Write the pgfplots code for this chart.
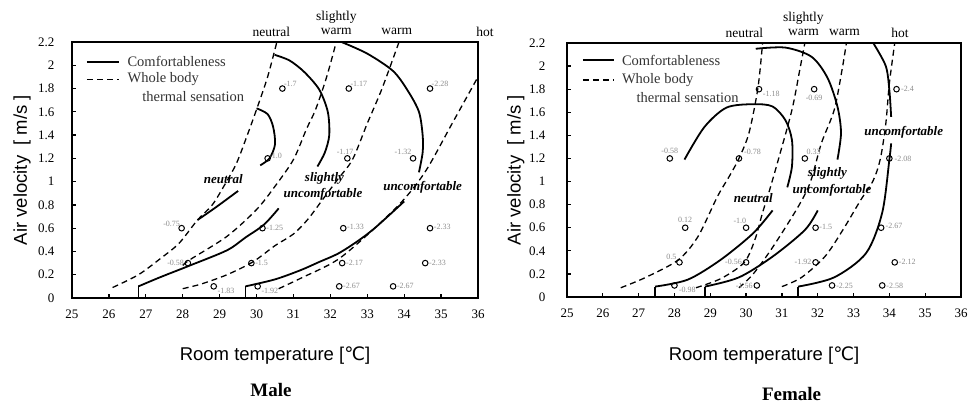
\documentclass[border=0pt]{standalone}
\usepackage{fontspec}
\setmainfont{Liberation Serif}
\newfontfamily\sansf{Liberation Sans}
\newfontfamily\dejavu{DejaVu Sans}
\usepackage{pgfplots}
\pgfplotsset{compat=1.18}
\tikzset{
  lab/.style={font=\fontsize{8}{8}\selectfont, text=black!45, inner sep=1.5pt},
  reg/.style={font=\bfseries\itshape\fontsize{13}{13}\selectfont},
  top/.style={font=\fontsize{13.5}{13.5}\selectfont, inner sep=0pt},
  leg/.style={font=\fontsize{14.5}{14.5}\selectfont, text=black!80, anchor=west, inner sep=0pt},
  alab/.style={font=\sansf\fontsize{18.5}{18.5}\selectfont},
  ttl/.style={font=\bfseries\fontsize{19}{19}\selectfont},
}
\begin{document}
\begin{tikzpicture}
\path[use as bounding box] (0pt,0pt) rectangle (969pt,403pt);
\pgfplotsset{
  panel/.style={
    scale only axis,
    xmin=25, xmax=36, ymin=0, ymax=2.2,
    xtick={25,26,27,28,29,30,31,32,33,34,35,36},
    ytick={0,0.2,0.4,0.6,0.8,1,1.2,1.4,1.6,1.8,2,2.2},
    xtick pos=bottom, ytick pos=left, tick align=inside,
    major tick length=4pt,
    tick style={line width=1.2pt, black},
    axis line style={line width=1.6pt},
    /pgf/number format/assume math mode=true,
    ticklabel style={font=\fontsize{13}{13}\selectfont},
    xticklabel style={yshift=-8pt},
    clip=false,
  },
  sol/.style={line width=1.8pt, black, smooth, tension=0.5, mark=none},
  stp/.style={line width=1.8pt, black, mark=none},
  das/.style={line width=1.3pt, black, dash pattern=on 6pt off 4pt, smooth, tension=0.5, mark=none},
  pts/.style={only marks, mark=o, mark size=2.8pt, mark options={line width=1pt, black}},
}
% ================= MALE =================
\begin{axis}[panel, at={(72pt,105pt)}, anchor=south west, width=406pt, height=256pt,
  yticklabel style={xshift=-14pt}]
% thermal sensation (dashed)
\addplot[das] coordinates {(26.1,0.09) (26.8,0.2) (27.4,0.34) (27.9,0.47) (28.4,0.67) (28.8,0.8) (29.15,0.98) (29.46,1.16) (29.75,1.4) (30.0,1.62) (30.3,1.9) (30.55,2.2)};
\addplot[das] coordinates {(28.0,0.28) (28.2,0.33) (29.2,0.53) (30.0,0.76) (30.5,0.96) (31.0,1.19) (31.35,1.45) (31.6,1.62) (31.9,1.9) (32.16,2.2)};
\addplot[das] coordinates {(28.0,0.08) (28.5,0.12) (29.2,0.2) (29.9,0.31) (30.5,0.45) (31.0,0.55) (31.4,0.68) (31.8,0.85) (32.2,1.02) (32.6,1.19) (33.0,1.5) (33.4,1.8) (33.86,2.2)};
\addplot[das] coordinates {(30.6,0.08) (31.2,0.17) (32.2,0.33) (33.2,0.6) (34.0,0.85) (34.6,1.1) (35.3,1.5) (36,1.9)};
% comfortableness (solid)
\addplot[sol] coordinates {(30.0,1.63) (30.3,1.58) (30.45,1.47) (30.5,1.32) (30.35,1.2) (30.1,1.14)};
\addplot[sol] coordinates {(28.4,0.67) (28.9,0.78) (29.5,0.92)};
\addplot[sol] coordinates {(30.49,2.09) (30.9,2.04) (31.3,1.94) (31.7,1.79) (31.93,1.6) (31.97,1.4) (31.85,1.25) (31.65,1.13)};
\addplot[stp] coordinates {(26.8,0) (26.8,0.1)};
\addplot[sol] coordinates {(26.8,0.1) (27.4,0.18) (28.2,0.28) (29.2,0.41) (29.7,0.52) (30.2,0.63) (30.6,0.77)};
\addplot[sol] coordinates {(32.3,2.2) (33.0,2.1) (33.7,1.95) (34.1,1.78) (34.4,1.6) (34.5,1.4) (34.5,1.25) (34.4,1.08)};
\addplot[stp] coordinates {(29.7,0) (29.7,0.1)};
\addplot[sol] coordinates {(29.7,0.1) (30.5,0.16) (31.2,0.24) (31.7,0.31) (32.2,0.38) (32.7,0.48) (33.2,0.6) (34.0,0.83)};
% measured points
\addplot[pts] coordinates {(30.7,1.8) (32.5,1.8) (34.7,1.8) (30.3,1.2) (32.46,1.2) (34.24,1.2)
 (27.97,0.6) (30.16,0.6) (32.35,0.6) (34.7,0.6) (28.14,0.3) (29.86,0.3) (32.32,0.3) (34.57,0.3)
 (28.84,0.1) (30.03,0.1) (32.24,0.1) (33.7,0.1)};
\node[lab, above right] at (axis cs:30.7,1.8) {-1.7};
\node[lab, above right] at (axis cs:32.5,1.8) {-1.17};
\node[lab, above right] at (axis cs:34.7,1.8) {-2.28};
\node[lab, right] at (axis cs:30.3,1.22) {-1.0};
\node[lab, above] at (axis cs:32.4,1.22) {-1.17};
\node[lab, above left] at (axis cs:34.24,1.22) {-1.32};
\node[lab, above left] at (axis cs:27.97,0.6) {-0.75};
\node[lab, right] at (axis cs:30.22,0.6) {-1.25};
\node[lab, right] at (axis cs:32.41,0.61) {-1.33};
\node[lab, right] at (axis cs:34.76,0.61) {-2.33};
\node[lab, left] at (axis cs:28.08,0.3) {-0.58};
\node[lab, right] at (axis cs:29.92,0.3) {-1.5};
\node[lab, right] at (axis cs:32.38,0.3) {-2.17};
\node[lab, right] at (axis cs:34.63,0.3) {-2.33};
\node[lab, below right] at (axis cs:28.9,0.1) {-1.83};
\node[lab, below right] at (axis cs:30.09,0.1) {-1.92};
\node[lab, right] at (axis cs:32.3,0.1) {-2.67};
\node[lab, right] at (axis cs:33.76,0.1) {-2.67};
% region labels
\node[reg] at (axis cs:29.1,1.02) {neutral};
\node[reg] at (axis cs:31.84,1.03) {slightly};
\node[reg] at (axis cs:31.8,0.89) {uncomfortable};
\node[reg] at (axis cs:34.5,0.95) {uncomfortable};
% top labels
\node[top] at (axis cs:30.4,2.29) {neutral};
\node[top] at (axis cs:32.16,2.41) {slightly};
\node[top] at (axis cs:32.16,2.29) {warm};
\node[top] at (axis cs:33.8,2.29) {warm};
\node[top, anchor=west] at (axis cs:35.95,2.29) {hot};
% legend
\draw[line width=1.8pt] (axis cs:25.4,2.03) -- (axis cs:26.27,2.03);
\node[leg] at (axis cs:26.5,2.03) {Comfortableness};
\draw[line width=1.3pt, dash pattern=on 6pt off 4pt] (axis cs:25.4,1.88) -- (axis cs:26.27,1.88);
\node[leg] at (axis cs:26.5,1.88) {Whole body};
\node[leg] at (axis cs:26.9,1.73) {thermal sensation};
% axis labels
\node[alab, rotate=90] at (axis description cs:-0.123,0.5) {Air velocity~~[~m/s~]};
\node[alab] at (axis description cs:0.5,-0.223) {Room temperature [{\dejavu ℃}]};
\node[ttl] at (axis description cs:0.49,-0.36) {Male};
\end{axis}
% ================= FEMALE =================
\begin{axis}[panel, at={(567pt,106pt)}, anchor=south west, width=394pt, height=254pt,
  yticklabel style={xshift=-18pt}]
\addplot[das] coordinates {(26.5,0.08) (27.2,0.17) (28.1,0.32) (28.65,0.52) (29.2,0.87) (29.54,1.05) (29.8,1.2) (30.08,1.42) (30.33,1.81) (30.46,2.2)};
\addplot[das] coordinates {(28.6,0.08) (29.3,0.16) (29.95,0.3) (30.25,0.5) (30.45,0.72) (30.65,0.92) (30.9,1.19) (31.28,1.62) (31.5,1.97) (31.64,2.2)};
\addplot[das] coordinates {(29.8,0.08) (30.2,0.2) (30.74,0.43) (31.45,0.78) (31.8,1.0) (32.1,1.33) (32.46,1.62) (32.68,1.97) (32.8,2.2)};
\addplot[das] coordinates {(31.0,0.09) (31.55,0.17) (32.2,0.35) (32.7,0.58) (33.2,0.84) (33.55,1.01) (33.75,1.2) (33.9,1.5) (34.0,1.85) (34.15,2.2)};
\addplot[sol] coordinates {(28.28,1.19) (28.83,1.47) (29.45,1.64) (30.2,1.67) (30.74,1.65) (31.1,1.53) (31.28,1.36) (31.28,1.13) (31.15,0.95)};
\addplot[stp] coordinates {(27.46,0) (27.46,0.09)};
\addplot[sol] coordinates {(27.46,0.09) (28.37,0.15) (29.28,0.32) (30.19,0.55) (30.74,0.75)};
\addplot[sol] coordinates {(30.27,2.15) (31.1,2.16) (31.83,2.08) (32.27,1.9) (32.55,1.65) (32.65,1.42) (32.55,1.19)};
\addplot[stp] coordinates {(28.85,0) (28.85,0.09)};
\addplot[sol] coordinates {(28.85,0.09) (29.8,0.17) (30.74,0.35) (31.64,0.58) (32.0,0.75)};
\addplot[sol] coordinates {(33.55,2.2) (33.9,2.0) (34.0,1.79) (34.05,1.56)};
\addplot[stp] coordinates {(31.45,0) (31.45,0.09)};
\addplot[sol] coordinates {(31.45,0.09) (32.46,0.17) (33.35,0.38) (33.8,0.73) (34.0,1.19) (34.05,1.33)};
\addplot[pts] coordinates {(30.36,1.8) (31.9,1.8) (34.2,1.8) (27.87,1.2) (29.8,1.2) (31.64,1.2) (34.0,1.2)
 (28.3,0.6) (30.0,0.6) (31.94,0.6) (33.77,0.6) (28.14,0.3) (30.0,0.3) (31.94,0.3) (34.15,0.3)
 (28.0,0.1) (30.3,0.1) (32.4,0.1) (33.8,0.1)};
\node[lab, below right] at (axis cs:30.42,1.8) {-1.18};
\node[lab, below] at (axis cs:31.9,1.76) {-0.69};
\node[lab, right] at (axis cs:34.28,1.8) {-2.4};
\node[lab, above] at (axis cs:27.87,1.23) {-0.58};
\node[lab, above right] at (axis cs:29.9,1.22) {-0.78};
\node[lab, above right] at (axis cs:31.64,1.22) {0.33};
\node[lab, right] at (axis cs:34.1,1.2) {-2.08};
\node[lab, above] at (axis cs:28.3,0.63) {0.12};
\node[lab, above left] at (axis cs:30.05,0.62) {-1.0};
\node[lab, right] at (axis cs:32.0,0.61) {-1.5};
\node[lab, right] at (axis cs:33.85,0.62) {-2.67};
\node[lab, above left] at (axis cs:28.1,0.31) {0.5};
\node[lab, left] at (axis cs:29.93,0.3) {-0.56};
\node[lab, left] at (axis cs:31.87,0.3) {-1.92};
\node[lab, right] at (axis cs:34.22,0.3) {-2.12};
\node[lab, below right] at (axis cs:28.08,0.1) {-0.98};
\node[lab, left] at (axis cs:30.23,0.1) {-1.56};
\node[lab, right] at (axis cs:32.47,0.1) {-2.25};
\node[lab, right] at (axis cs:33.87,0.1) {-2.58};
\node[reg] at (axis cs:30.2,0.86) {neutral};
\node[reg] at (axis cs:32.27,1.07) {slightly};
\node[reg] at (axis cs:32.4,0.92) {uncomfortable};
\node[reg] at (axis cs:34.4,1.43) {uncomfortable};
\node[top] at (axis cs:29.95,2.29) {neutral};
\node[top] at (axis cs:31.6,2.41) {slightly};
\node[top] at (axis cs:31.6,2.29) {warm};
\node[top] at (axis cs:32.75,2.29) {warm};
\node[top] at (axis cs:34.3,2.29) {hot};
\draw[line width=1.8pt] (axis cs:25.44,2.05) -- (axis cs:26.31,2.05);
\node[leg] at (axis cs:26.53,2.05) {Comfortableness};
\draw[line width=1.3pt, dash pattern=on 6pt off 4pt] (axis cs:25.44,1.88) -- (axis cs:26.31,1.88);
\node[leg] at (axis cs:26.53,1.88) {Whole body};
\node[leg] at (axis cs:26.94,1.73) {thermal sensation};
\node[alab, rotate=90] at (axis description cs:-0.13,0.5) {Air velocity~~[~m/s~]};
\node[alab] at (axis description cs:0.5,-0.23) {Room temperature [{\dejavu ℃}]};
\node[ttl] at (axis description cs:0.57,-0.38) {Female};
\end{axis}
\end{tikzpicture}
\end{document}
